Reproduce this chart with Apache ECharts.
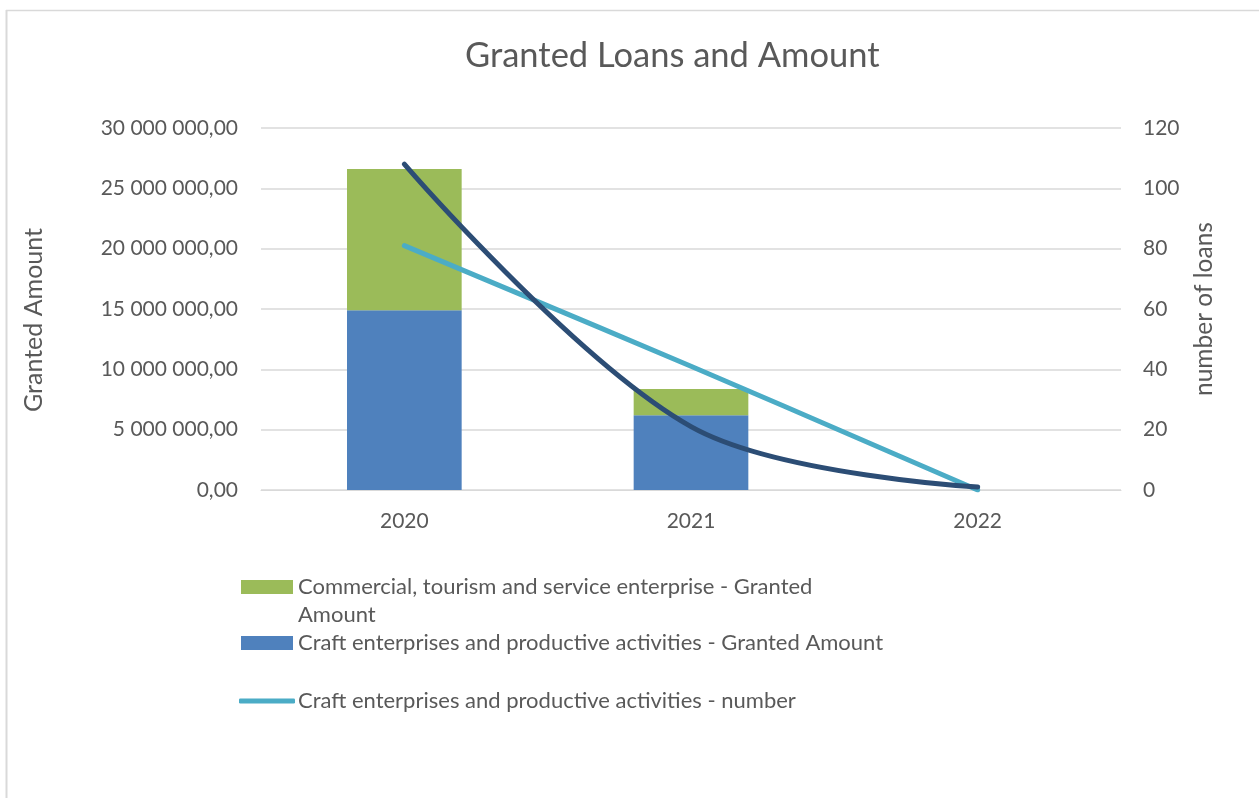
<!DOCTYPE html>
<html>
<head>
<meta charset="utf-8">
<script src="https://cdn.jsdelivr.net/npm/echarts@6/dist/echarts.min.js"></script>
<style>
html,body{margin:0;padding:0;background:#fff;}
#chart{width:1259px;height:798px;}
</style>
</head>
<body>
<div id="chart"></div>
<script>
var categories = ['2020', '2021', '2022'];
var craftAmount = [14900000, 6190000, 0];
var commercialAmount = [11700000, 2180000, 0];
var craftNumber = [81, 41, 0];
var commercialNumber = [108, 21, 1];
var leftTicks = {min: 0, max: 30000000, interval: 5000000};
var rightTicks = {min: 0, max: 120, interval: 20};

var nameCommercialAmt = 'Commercial, tourism and service enterprise - Granted Amount';
var nameCraftAmt = 'Craft enterprises and productive activities - Granted Amount';
var nameCraftNum = 'Craft enterprises and productive activities - number';
var nameCommercialNum = 'Commercial, tourism and service enterprise - number';

var FONT = 'Lato';
var TXT = '#595959';

function fmtAmount(v) {
  return String(Math.round(v)).replace(/\B(?=(\d{3})+(?!\d))/g, ' ') + ',00';
}

var chart = echarts.init(document.getElementById('chart'));
chart.setOption({
  animation: false,
  textStyle: {fontFamily: FONT},
  title: {
    text: 'Granted Loans and Amount',
    left: 460,
    top: 33,
    textStyle: {fontFamily: FONT, fontSize: 34.5, fontWeight: 'normal', color: TXT}
  },
  graphic: [
    {type: 'line', shape: {x1: 6.5, y1: 10, x2: 6.5, y2: 800}, style: {stroke: '#d9d9d9', lineWidth: 2}},
    {type: 'line', shape: {x1: 6, y1: 10.5, x2: 1260, y2: 10.5}, style: {stroke: '#d9d9d9', lineWidth: 1.5}}
  ],
  legend: [
    {
      data: [nameCommercialAmt],
      orient: 'vertical', left: 241, top: 545, padding: 0,
      itemWidth: 52, itemHeight: 14, itemGap: 0, icon: 'rect',
      formatter: function () { return '\nCommercial, tourism and service enterprise - Granted\nAmount'; },
      textStyle: {fontFamily: FONT, fontSize: 22, color: TXT, lineHeight: 28}
    },
    {
      data: [nameCraftAmt],
      orient: 'vertical', left: 241, top: 629, padding: 0,
      itemWidth: 52, itemHeight: 14, icon: 'rect',
      textStyle: {fontFamily: FONT, fontSize: 22, color: TXT, lineHeight: 28}
    },
    {
      data: [nameCraftNum],
      orient: 'vertical', left: 239, top: 687, padding: 0,
      itemWidth: 56, itemHeight: 5, icon: 'roundRect',
      textStyle: {fontFamily: FONT, fontSize: 22, color: TXT, lineHeight: 28, padding: [0, 0, 0, -2]}
    }
  ],
  grid: {left: 261, right: 138, top: 128, bottom: 308, containLabel: false},
  xAxis: {
    type: 'category',
    data: categories,
    axisLine: {lineStyle: {color: '#d9d9d9', width: 1}},
    axisTick: {show: false},
    axisLabel: {fontFamily: FONT, fontSize: 21, color: TXT, margin: 21}
  },
  yAxis: [
    {
      type: 'value',
      min: leftTicks.min, max: leftTicks.max, interval: leftTicks.interval,
      name: 'Granted Amount',
      nameLocation: 'middle',
      nameGap: 215,
      nameRotate: 90,
      nameTextStyle: {fontFamily: FONT, fontSize: 25, color: TXT, padding: [0, 22, 0, 0]},
      axisLine: {show: false},
      axisTick: {show: false},
      splitLine: {lineStyle: {color: '#d9d9d9', width: 1.5}},
      axisLabel: {fontFamily: FONT, fontSize: 21, color: TXT, margin: 23, formatter: fmtAmount}
    },
    {
      type: 'value',
      min: rightTicks.min, max: rightTicks.max, interval: rightTicks.interval,
      name: 'number of loans',
      nameLocation: 'middle',
      nameGap: 71,
      nameRotate: 90,
      nameTextStyle: {fontFamily: FONT, fontSize: 24.5, color: TXT},
      axisLine: {show: false},
      axisTick: {show: false},
      splitLine: {show: false},
      axisLabel: {fontFamily: FONT, fontSize: 21, color: TXT, margin: 22}
    }
  ],
  series: [
    {
      name: nameCraftAmt, type: 'bar', stack: 'amt', yAxisIndex: 0,
      barWidth: '40%', data: craftAmount,
      itemStyle: {color: '#4F81BD'}
    },
    {
      name: nameCommercialAmt, type: 'bar', stack: 'amt', yAxisIndex: 0,
      barWidth: '40%', data: commercialAmount,
      itemStyle: {color: '#9BBB59'}
    },
    {
      name: nameCraftNum, type: 'line', yAxisIndex: 1, data: craftNumber,
      smooth: 0.4, symbol: 'none',
      lineStyle: {color: '#4BACC6', width: 5, cap: 'round'},
      itemStyle: {color: '#4BACC6'}
    },
    {
      name: nameCommercialNum, type: 'line', yAxisIndex: 1, data: commercialNumber,
      smooth: 0.35, symbol: 'none',
      lineStyle: {color: '#2C4D75', width: 5, cap: 'round'},
      itemStyle: {color: '#2C4D75'}
    }
  ]
});
</script>
</body>
</html>
